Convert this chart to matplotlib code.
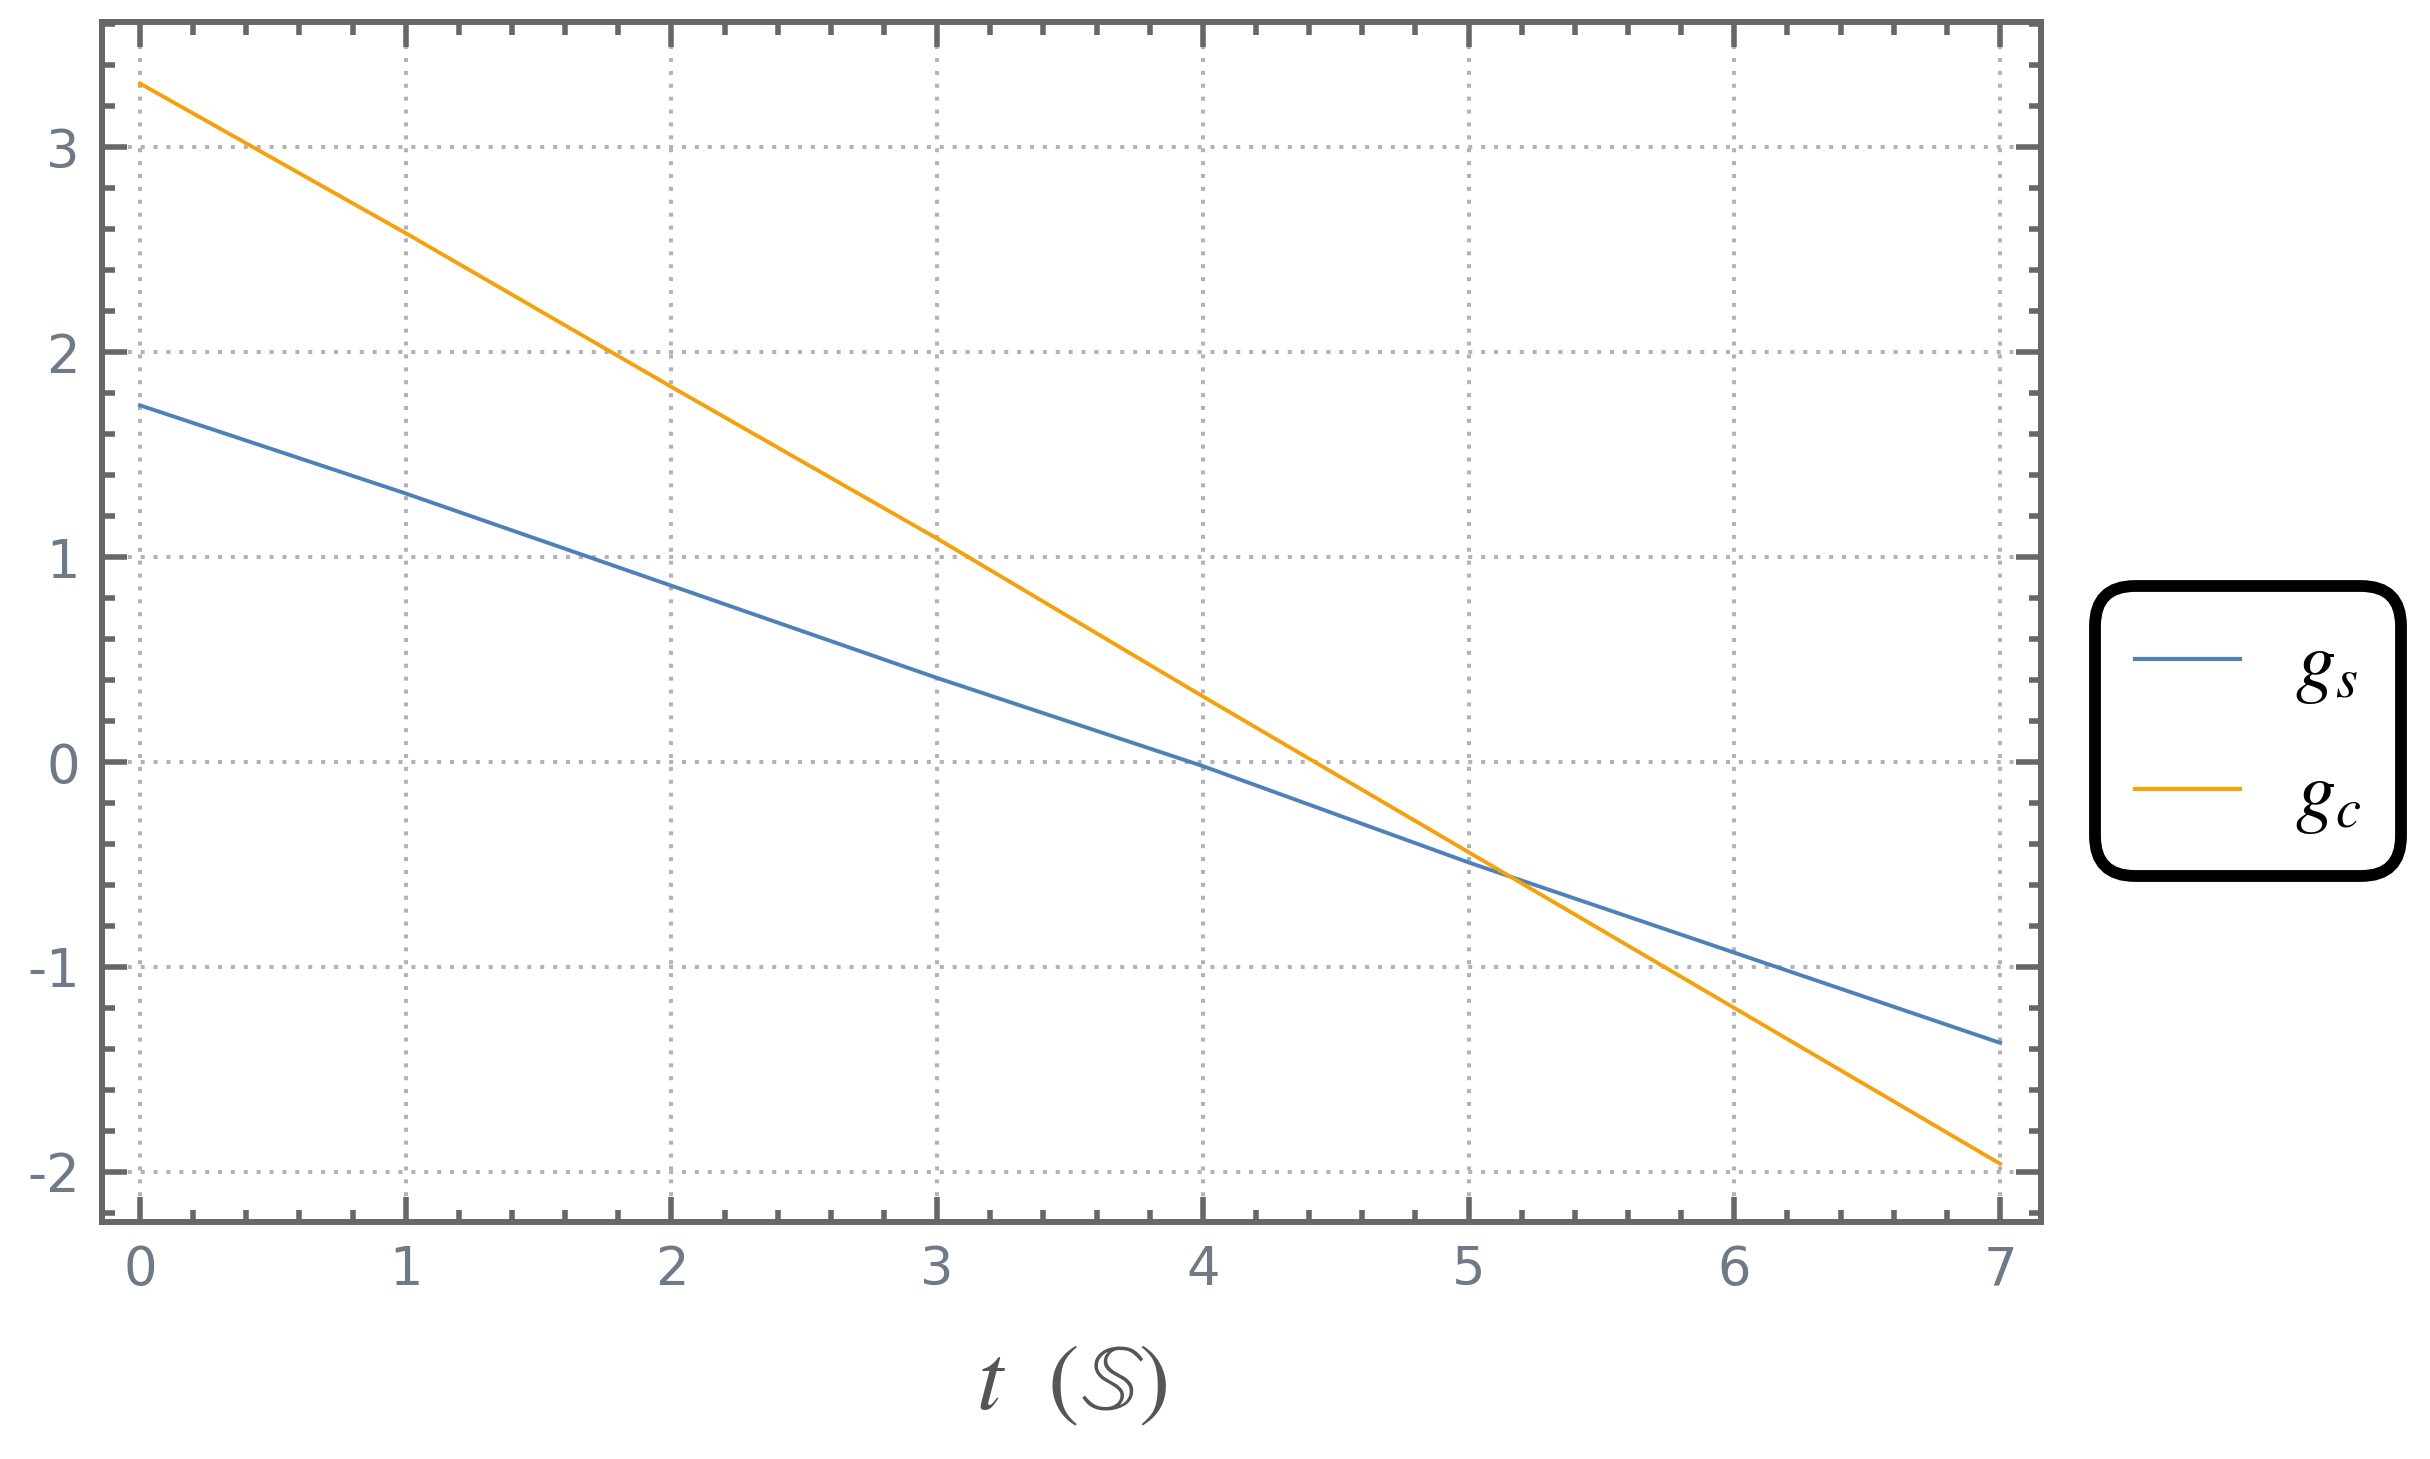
import matplotlib
matplotlib.use("Agg")
import matplotlib.pyplot as plt
from matplotlib.ticker import MultipleLocator
import numpy as np

t_vals = [0, 1, 2, 3, 4, 5, 6, 7]
g_s = [1.74, 1.31, 0.86, 0.41, -0.02, -0.49, -0.93, -1.37]
g_c = [3.31, 2.58, 1.83, 1.09, 0.32, -0.44, -1.20, -1.96]
x_ticks = [0, 1, 2, 3, 4, 5, 6, 7]
y_ticks = [-2, -1, 0, 1, 2, 3]
labels = [r"$g_s$", r"$g_c$"]

plt.rcParams['mathtext.fontset'] = 'stix'
plt.rcParams['axes.unicode_minus'] = False

W, H = 2430, 1459
dpi = 100
fig = plt.figure(figsize=(W / dpi, H / dpi), dpi=dpi)
ax = fig.add_axes([102 / W, 1 - 1222 / H, (2041 - 102) / W, (1222 - 22) / H])

blue = '#4e80ba'
orange = '#f5a10c'
ax.plot(t_vals, g_s, color=blue, lw=2.8, label=labels[0])
ax.plot(t_vals, g_c, color=orange, lw=2.8, label=labels[1])

ax.set_xlim(-0.143, 7.154)
ax.set_ylim(-2.244, 3.61)
ax.set_xticks(x_ticks)
ax.set_yticks(y_ticks)
ax.xaxis.set_minor_locator(MultipleLocator(0.2))
ax.yaxis.set_minor_locator(MultipleLocator(0.2))

frame_col = '#676767'
for s in ax.spines.values():
    s.set_color(frame_col)
    s.set_linewidth(4.3)

ax.tick_params(which='both', direction='in', top=True, right=True,
               color=frame_col, width=4.0)
ax.tick_params(which='major', length=18, labelsize=38, labelcolor='#6f7a86', pad=16)
ax.tick_params(which='minor', length=9)

ax.grid(True, which='major', color='#b3b3b3', lw=2.9, linestyle=(0, (1, 2.2)))

ax.set_xlabel(r"$t\ \ (\mathbb{S})$", fontsize=68, color='#555555', labelpad=30)

leg = ax.legend(loc='center left', bbox_to_anchor=(2095 / W, 1 - 731 / H),
                bbox_transform=fig.transFigure, fontsize=58, frameon=True,
                fancybox=True, framealpha=1, handlelength=1.3, handletextpad=0.68,
                borderpad=0.5, labelspacing=0.62, borderaxespad=0)
fr = leg.get_frame()
fr.set_edgecolor('black')
fr.set_linewidth(8.5)
fr.set_boxstyle('round', pad=0, rounding_size=0.5)
for line in leg.get_lines():
    line.set_linewidth(3.0)

fig.savefig('out.png', dpi=dpi)
